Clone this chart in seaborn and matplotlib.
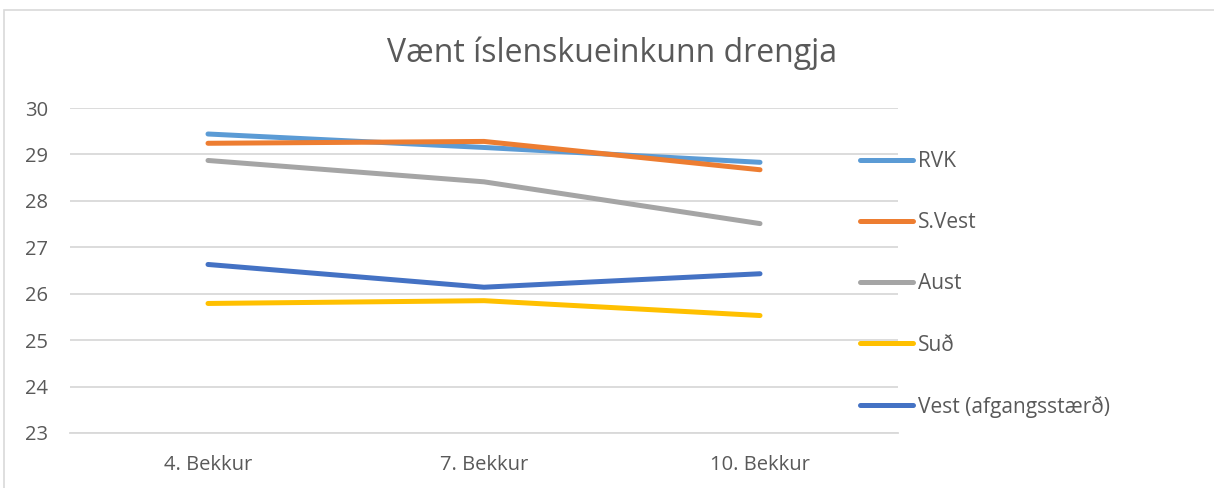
import matplotlib
matplotlib.use("Agg")
from matplotlib import pyplot as plt
from matplotlib.patches import Rectangle
import pandas as pd
import seaborn as sns

# data
grades = ["4. Bekkur", "7. Bekkur", "10. Bekkur"]
regions = ["RVK", "S.Vest", "Aust", "Suð", "Vest (afgangsstærð)"]
rvk = [29.44, 29.15, 28.83]
s_vest = [29.24, 29.28, 28.67]
aust = [28.87, 28.41, 27.51]
sud = [25.79, 25.85, 25.53]
vest = [26.63, 26.14, 26.43]
colors = ["#5B9BD5", "#ED7D31", "#A5A5A5", "#FFC000", "#4472C4"]

rows = []
for name, vals in zip(regions, [rvk, s_vest, aust, sud, vest]):
    for g, v in zip(grades, vals):
        rows.append({"bekkur": g, "einkunn": v, "svaedi": name})
df = pd.DataFrame(rows)

sns.set_theme(style="white")
plt.rcParams["font.family"] = ["Open Sans", "DejaVu Sans"]

fig = plt.figure(figsize=(12.14, 4.88), dpi=100)
ax = fig.add_axes([70 / 1214, 1 - 433 / 488, 828 / 1214, 325 / 488])

# outer chart border like the excel chart frame
fig.patches.append(Rectangle((4 / 1214, -0.05), 1.1, 1 - 10 / 488 + 0.05,
                             transform=fig.transFigure, fill=False,
                             edgecolor="#D9D9D9", linewidth=1.2))

sns.lineplot(data=df, x="bekkur", y="einkunn", hue="svaedi", hue_order=regions,
             palette=colors, sort=False, linewidth=3.6, ax=ax,
             solid_capstyle="round")

ax.set_xlim(-0.5, 2.5)
ax.set_ylim(23, 30)
ax.set_yticks(range(23, 31))
ax.yaxis.grid(True, color="#D9D9D9", linewidth=1.3)
ax.set_axisbelow(True)
for s in ["top", "right", "left"]:
    ax.spines[s].set_visible(False)
ax.spines["bottom"].set_color("#D9D9D9")
ax.spines["bottom"].set_linewidth(1.3)
ax.set(xlabel="", ylabel="")
ax.tick_params(axis="both", labelsize=14.5, colors="#595959", length=0)
ax.tick_params(axis="y", pad=16)
ax.tick_params(axis="x", pad=16)

fig.text(612 / 1214, 1 - 53 / 488, "Vænt íslenskueinkunn drengja",
         ha="center", va="center", fontsize=23, color="#595959")

h, l = ax.get_legend_handles_labels()
leg = ax.legend(h, l, loc="upper left", bbox_to_anchor=(860 / 1214, 1 - 151 / 488),
                bbox_transform=fig.transFigure, frameon=False, fontsize=15,
                labelspacing=1.93, handlelength=2.55, handletextpad=0.25,
                borderpad=0, borderaxespad=0)
for line in leg.get_lines():
    line.set_linewidth(3.6)
    line.set_solid_capstyle("round")
for t in leg.get_texts():
    t.set_color("#595959")

fig.savefig("out.png", dpi=100)
